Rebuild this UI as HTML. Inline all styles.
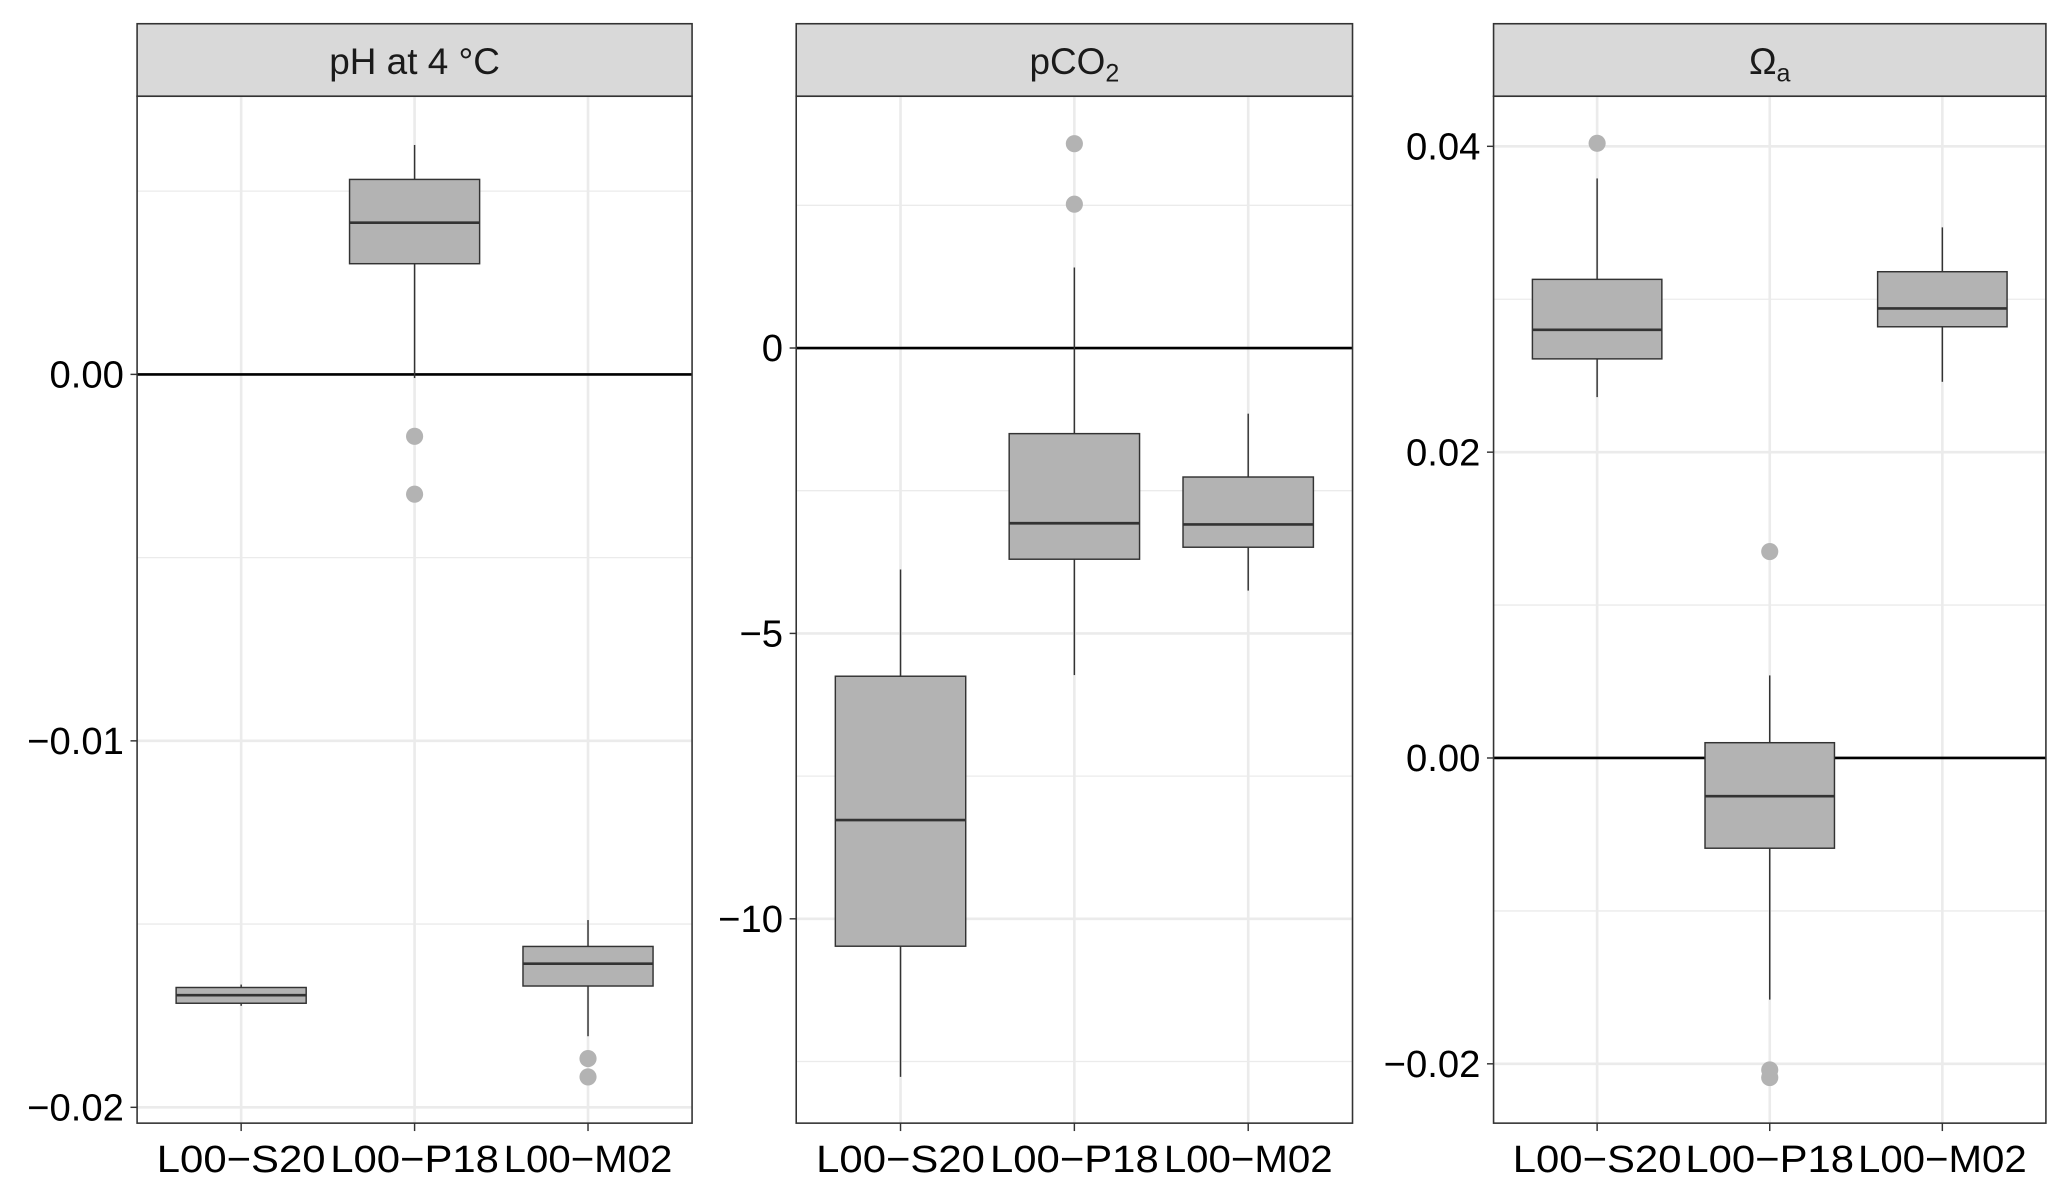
<!DOCTYPE html>
<html><head><meta charset="utf-8"><style>
html,body{margin:0;padding:0;background:#fff;}
svg{display:block;}
text{font-family:"Liberation Sans",sans-serif;}
</style></head><body>
<svg id="chart" width="2067" height="1194" viewBox="0 0 1568 905.75" preserveAspectRatio="none" xmlns="http://www.w3.org/2000/svg"></svg>
<script>
const categories = ["L00\u2212S20","L00\u2212P18","L00\u2212M02"];
// [whiskerLow, Q1, median, Q3, whiskerHigh]
const phStats = [[-0.01723,-0.01716,-0.01694,-0.01673,-0.01665],[-0.0001,0.00302,0.00414,0.00532,0.00626],[-0.01806,-0.01669,-0.01608,-0.01561,-0.01489]];
const phOutliers = [[],[-0.00169,-0.00327],[-0.01867,-0.01917]];
const phTicks = [0,-0.01,-0.02];
const phTickLabels = ["0.00","\u22120.01","\u22120.02"];
const phMinor = [0.005,-0.005,-0.015];
const pco2Stats = [[-12.77,-10.48,-8.27,-5.75,-3.88],[-5.73,-3.70,-3.07,-1.50,1.41],[-4.25,-3.49,-3.09,-2.26,-1.15]];
const pco2Outliers = [[],[3.58,2.52],[]];
const pco2Ticks = [0,-5,-10];
const pco2TickLabels = ["0","\u22125","\u221210"];
const pco2Minor = [2.5,-2.5,-7.5,-12.5];
const omStats = [[0.0236,0.0261,0.0280,0.0313,0.0379],[-0.0158,-0.0059,-0.0025,0.0010,0.0054],[0.0246,0.0282,0.0294,0.0318,0.0347]];
const omOutliers = [[0.0402],[0.0135,-0.0204,-0.0209],[]];
const omTicks = [0.04,0.02,0,-0.02];
const omTickLabels = ["0.04","0.02","0.00","\u22120.02"];
const omMinor = [0.03,0.01,-0.01];

const NS="http://www.w3.org/2000/svg";
const svg=document.getElementById('chart');
function mk(tag,attrs,parent){const e=document.createElementNS(NS,tag);for(const k in attrs)e.setAttribute(k,attrs[k]);(parent||svg).appendChild(e);return e;}

const panels=[
 {key:'ph',x0:104,x1:525,y0px:284,ppu:27800,stats:phStats,out:phOutliers,ticks:phTicks,labels:phTickLabels,minor:phMinor},
 {key:'pco2',x0:604,x1:1026,y0px:264,ppu:43.3,stats:pco2Stats,out:pco2Outliers,ticks:pco2Ticks,labels:pco2TickLabels,minor:pco2Minor},
 {key:'omega',x0:1133,x1:1552,y0px:575,ppu:11600,stats:omStats,out:omOutliers,ticks:omTicks,labels:omTickLabels,minor:omMinor}
];
const plotTop=73,plotBot=852,stripTop=18;
panels.forEach(p=>{
 const g=mk('g',{});
 
 
 const y=v=>p.y0px-v*p.ppu;
 const w=p.x1-p.x0, step=w/3.2;
 const x=i=>p.x0+step*(0.6+i);
 const strip=mk('rect',{x:p.x0,y:stripTop,width:w,height:plotTop-stripTop,fill:'#d9d9d9',stroke:'#333','stroke-width':1.2},g);
 
 
 const t=mk('text',{x:(p.x0+p.x1)/2,y:56,'font-size':28,'text-anchor':'middle',fill:'#1a1a1a'},g);
 
 
 if(p.key==='ph'){t.textContent='pH at 4 \u00b0C';}
 else if(p.key==='pco2'){t.textContent='pCO';const s=mk('tspan',{'font-size':19,dy:6},t);s.textContent='2';}
 else {t.textContent='\u03a9';const s=mk('tspan',{'font-size':19,dy:6},t);s.textContent='a';}
 p.minor.forEach(v=>mk('line',{x1:p.x0,x2:p.x1,y1:y(v),y2:y(v),stroke:'#ebebeb','stroke-width':1},g));
 p.ticks.forEach(v=>mk('line',{x1:p.x0,x2:p.x1,y1:y(v),y2:y(v),stroke:'#ebebeb','stroke-width':2},g));
 categories.forEach((c,i)=>mk('line',{x1:x(i),x2:x(i),y1:plotTop,y2:plotBot,stroke:'#ebebeb','stroke-width':2},g));
 const z=mk('line',{x1:p.x0,x2:p.x1,y1:y(0),y2:y(0),stroke:'#000','stroke-width':2},g);
 
 
 const bw=step*0.75;
 p.stats.forEach((s,i)=>{
  const bg=mk('g',{},g);
  
  
  mk('line',{x1:x(i),x2:x(i),y1:y(s[4]),y2:y(s[3]),stroke:'#333','stroke-width':1.1},bg);
  mk('line',{x1:x(i),x2:x(i),y1:y(s[1]),y2:y(s[0]),stroke:'#333','stroke-width':1.1},bg);
  mk('rect',{x:x(i)-bw/2,y:y(s[3]),width:bw,height:Math.max(1,y(s[1])-y(s[3])),fill:'#b3b3b3',stroke:'#333','stroke-width':1.1},bg);
  mk('line',{x1:x(i)-bw/2,x2:x(i)+bw/2,y1:y(s[2]),y2:y(s[2]),stroke:'#333','stroke-width':2},bg);
  p.out[i].forEach(v=>{
   const c=mk('circle',{cx:x(i),cy:y(v),r:6.5,fill:'#b3b3b3'},g);
   
   
  });
 });
 mk('rect',{x:p.x0,y:plotTop,width:w,height:plotBot-plotTop,fill:'none',stroke:'#333','stroke-width':1.2},g);
 p.ticks.forEach((v,k)=>{
  mk('line',{x1:p.x0-5,x2:p.x0,y1:y(v),y2:y(v),stroke:'#333','stroke-width':1.1},g);
  const tl=mk('text',{x:p.x0-10,y:y(v)+10,'font-size':29,'text-anchor':'end',fill:'#000'},g);
  
  
  tl.textContent=p.labels[k];
 });
 categories.forEach((c,i)=>{
  mk('line',{x1:x(i),x2:x(i),y1:plotBot,y2:plotBot+6,stroke:'#333','stroke-width':1.1},g);
  const xl=mk('text',{x:x(i),y:889,'font-size':29,'text-anchor':'middle',fill:'#000',textLength:128,lengthAdjust:'spacingAndGlyphs'},g);
  
  
  xl.textContent=c;
 });
});
</script>
</body></html>
